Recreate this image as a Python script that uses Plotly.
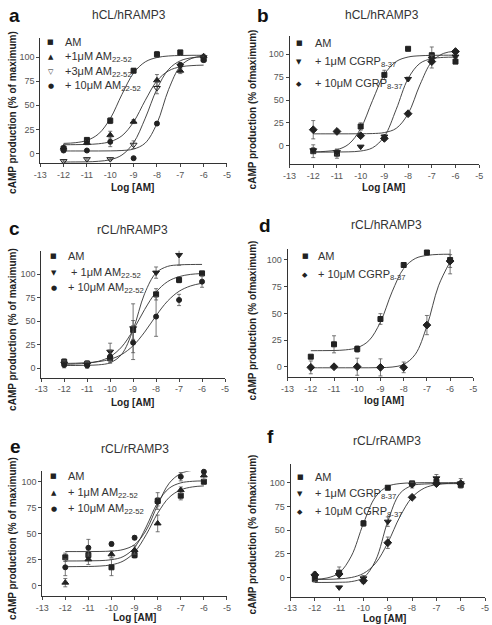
import plotly.graph_objects as go

W, H = 492, 625

# ---------------- data ----------------
dose = [-12, -11, -10, -9, -8, -7, -6]
fit_x = [-12, -11.5, -11, -10.5, -10, -9.5, -9, -8.5, -8, -7.5, -7, -6.5, -6]
fit_x_short = [-12, -11.5, -11, -10.5, -10, -9.5, -9, -8.5, -8, -7.5, -7, -6.5, -6.3]
x_ticks = [-13, -12, -11, -10, -9, -8, -7, -6, -5]
y_ticks = [0, 25, 50, 75, 100]

# panel a  (hCL/hRAMP3, AM22-52)
a_am = [5, 14, 34, 86, 103, 105, 98]
a_am_err = [2, 2, 3, 2, 3, 2, 3]
a_am_fit = [10.4, 11.1, 13.5, 20.3, 36.2, 61.3, 83.6, 95.2, 99.7, 101.3, 101.8, 102, 102]
a_1 = [6, 11, 19, 33, 76, 86, 101]
a_1_err = [2, 2, 4, 2, 6, 3, 2]
a_1_fit = [9.0, 9.1, 9.3, 10.0, 12.2, 18.3, 32.7, 55.2, 75.4, 85.9, 90.0, 91.3, 91.8]
a_3 = [-8, -6, -6, 9, 68, 91, 100]
a_3_err = [1, 1, 1, 4, 6, 3, 2]
a_3_fit = [-9.0, -8.9, -8.8, -8.2, -6.6, -1.7, 11.1, 36.6, 67.0, 87.4, 96.3, 99.5, 100.5]
a_10 = [3, 3, 12, -5, 31, 92, 97]
a_10_err = [1, 1, 5, 1, 2, 2, 2]
a_10_fit = [2.5, 2.5, 2.5, 2.5, 2.6, 3.0, 4.5, 10.8, 31.1, 66.5, 90.6, 98.9, 101.0]

# panel b  (hCL/hRAMP3, CGRP8-37)
b_am = [-6, -8.7, 21, 77.5, 106, 99, 92]
b_am_err = [7, 5, 4, 5, 1, 9, 1]
b_am_fit = [-6.8, -6.2, -4.4, 1.8, 18.7, 49.4, 77.9, 92.1, 97.0, 98.4, 98.8, 99.0, 99.0]
b_1 = [-5, -7, -1, 10, 73, 95, 97.5]
b_1_err = [3, 3, 1, 2, 2, 4, 1]
b_1_fit = [-7.0, -7.0, -6.9, -6.7, -5.8, -2.3, 10.1, 39.8, 73.4, 90.1, 95.2, 96.6, 96.9]
b_10 = [17.5, 15.6, 11, 8, 35, 92, 103]
b_10_err = [10, 1, 2, 2, 1, 7, 1]
b_10_fit = [13.0, 13.0, 13.0, 13.0, 13.1, 13.3, 14.4, 19.0, 34.9, 66.6, 91.9, 101.0, 103.3]

# panel c  (rCL/hRAMP3, AM22-52)
c_am = [7, 5, 10.6, 40.8, 78.7, 94, 101]
c_am_err = [3, 3, 4, 10, 6, 3, 2]
c_am_fit = [4.2, 4.6, 5.4, 7.5, 12.4, 22.7, 40.5, 62.5, 81.0, 92.2, 97.5, 99.9, 100.8]
c_1 = [5, 4, 17.7, 42.6, 101.8, 120.6, None]
c_1_err = [3, 3, 9, 26, 6, 11, 0]
c_1_fit = [3.0, 3.0, 3.2, 3.7, 5.9, 14.8, 41.1, 79.4, 101.5, 108.4, 110.0, 110.4, 110.5]
c_10 = [3.5, 3, 12.4, 27.3, 55, 72.7, 92.2]
c_10_err = [3, 3, 7, 18, 21, 6, 6]
c_10_fit = [5.2, 5.4, 6.0, 7.1, 9.6, 14.7, 24.0, 38.5, 56.0, 71.5, 81.9, 87.6, 90.5]

# panel d  (rCL/hRAMP3, CGRP8-37)
d_am = [9.4, 21, 16.6, 44.7, 95.3, 107, 100]
d_am_err = [1, 8, 3, 5, 2, 1, 13]
d_am_fit = [15.0, 15.1, 15.2, 15.8, 17.8, 24.4, 41.9, 70.1, 92.0, 101.4, 104.3, 105.2, 105.4]
d_10 = [-0.6, 0, 0, -0.6, -0.6, 39, 99]
d_10_err = [6, 0.5, 8, 8, 5, 9, 6]
d_10_fit = [-1.0, -1.0, -1.0, -1.0, -1.0, -1.0, -0.8, -0.3, 2.2, 11.6, 38.1, 75.8, 98.3]

# panel e  (rCL/rRAMP3, AM22-52)
e_am = [27.5, 29.7, 17.9, 29.7, 81.5, 86.6, 100]
e_am_err = [4, 4, 8, 3, 8, 4, 2]
e_am_fit = [24.0, 24.0, 24.1, 24.3, 25.2, 28.1, 36.9, 56.6, 80.0, 93.8, 98.9, 100.4, 100.8]
e_1 = [3.2, 25.6, 30.4, 34.5, 60, 92, 106]
e_1_err = [4, 5, 3, 4, 8, 3, 4]
e_1_fit = [18.5, 18.6, 18.7, 19.1, 20.3, 23.8, 32.4, 49.1, 69.8, 85.0, 92.2, 95.0, 96.0]
e_10 = [17.9, 36.7, 40.3, 46.3, 80.8, 104.8, 109.6]
e_10_err = [8, 8, 2, 2, 4, 4, 3]
e_10_fit = [33.0, 33.0, 33.0, 33.1, 33.5, 34.9, 39.7, 53.3, 77.7, 98.6, 107.9, 110.9, 111.3]

# panel f  (rCL/rRAMP3, CGRP8-37)
f_am = [-1.5, 5.3, 57.2, 94.7, 99.3, 101, 97.5]
f_am_err = [3, 6, 3, 2, 2, 2, 2]
f_am_fit = [-1.6, -0.3, 5.0, 22.7, 57.2, 85.3, 96.2, 99.1, 99.8, 100.0, 100.0, 100.0, 100.0]
f_1 = [1, -10.2, -0.7, 59, 97.5, 104.6, 99.3]
f_1_err = [5, 1, 3, 5, 3, 4, 5]
f_1_fit = [-5.0, -5.0, -4.8, -4.1, 0.1, 18.3, 59.3, 88.7, 97.0, 98.6, 98.9, 99.0, 99.0]
f_10 = [3, 3.9, -3.2, 36.8, 84.6, 99, 99]
f_10_err = [2, 2, 3, 6, 1, 2, 2]
f_10_fit = [-1.9, -1.7, -1.2, 0.2, 4.5, 15.3, 36.8, 64.3, 84.6, 94.3, 98.0, 99.3, 99.8]

titles = ["hCL/hRAMP3", "hCL/hRAMP3", "rCL/hRAMP3", "rCL/hRAMP3", "rCL/rRAMP3", "rCL/rRAMP3"]
letters = ["a", "b", "c", "d", "e", "f"]
y_titles = ["cAMP production (% of maximum)", "cAMP production (% ofmaximum)",
            "cAMP production (% of maximum)", "cAMP production (% ofmaximum)",
            "cAMP production (% of maximum)", "cAMP production (% ofmaximum)"]
x_titles = ["Log [AM]", "Log [AM]", "Log [AM]", "log [AM]", "Log [AM]", "Log [AM]"]

# ---------------- layout geometry (pixels) ----------------
geom = [
    dict(x=(34, 225), y=(38, 163), yr=(-10, 120)),
    dict(x=(289, 483), y=(36, 164), yr=(-20, 120)),
    dict(x=(35, 223), y=(250.8, 377.7), yr=(-10, 125)),
    dict(x=(287, 477), y=(249.3, 377.4), yr=(-10, 110)),
    dict(x=(36, 225), y=(471.3, 596.4), yr=(-10, 110)),
    dict(x=(290, 489), y=(463.7, 596.7), yr=(-20, 120)),
]
title_pos = [(125, 15), (384, 15), (128, 230), (388, 225), (131, 449), (389, 441)]
letter_pos = [(8, 15), (262, 15), (8, 228), (264, 225), (9, 446), (270, 436)]
ytitle_pos = [(5, 112), (251, 109), (5, 329), (251, 320), (5, 538), (251, 534)]
xtitle_pos = [(128, 187), (385, 187), (128, 402), (386, 400), (130, 617.5), (386, 618.5)]

SUB_AM = "AM<sub>22-52</sub>"
SUB_CG = "CGRP<sub>8-37</sub>"
panels = [
    [("square", "■", "AM", a_am, a_am_err, a_am_fit, fit_x),
     ("triangle-up", "▲", "+1μM " + SUB_AM, a_1, a_1_err, a_1_fit, fit_x),
     ("triangle-down-open", "▽", "+3μM " + SUB_AM, a_3, a_3_err, a_3_fit, fit_x),
     ("circle", "●", "+ 10μM " + SUB_AM, a_10, a_10_err, a_10_fit, fit_x)],
    [("square", "■", "AM", b_am, b_am_err, b_am_fit, fit_x),
     ("triangle-down", "▼", "+ 1μM " + SUB_CG, b_1, b_1_err, b_1_fit, fit_x),
     ("diamond", "◆", "+ 10μM " + SUB_CG, b_10, b_10_err, b_10_fit, fit_x)],
    [("square", "■", "AM", c_am, c_am_err, c_am_fit, fit_x),
     ("triangle-down", "▼", " + 1μM " + SUB_AM, c_1, c_1_err, c_1_fit, fit_x),
     ("circle", "●", "+ 10μM " + SUB_AM, c_10, c_10_err, c_10_fit, fit_x)],
    [("square", "■", "AM", d_am, d_am_err, d_am_fit, fit_x),
     ("diamond", "◆", "+ 10μM " + SUB_CG, d_10, d_10_err, d_10_fit, fit_x)],
    [("square", "■", "AM", e_am, e_am_err, e_am_fit, fit_x),
     ("triangle-up", "▲", "+ 1μM " + SUB_AM, e_1, e_1_err, e_1_fit, fit_x),
     ("circle", "●", "+ 10μM " + SUB_AM, e_10, e_10_err, e_10_fit, fit_x_short)],
    [("square", "■", "AM", f_am, f_am_err, f_am_fit, fit_x),
     ("triangle-down", "▼", "+ 1μM " + SUB_CG, f_1, f_1_err, f_1_fit, fit_x),
     ("diamond", "◆", "+ 10μM " + SUB_CG, f_10, f_10_err, f_10_fit, fit_x)],
]
legend_rows = [
    (45, 57, [42, 57, 72, 86]),
    (299, 313, [43, 62.5, 84]),
    (48, 60, [256, 273, 288]),
    (305, 316, [256, 275]),
    (48, 60, [476, 493, 509]),
    (300, 313, [477, 494, 512]),
]

FONT = "Liberation Sans, Arial, Helvetica, sans-serif"
INK = "#222222"

fig = go.Figure()
layout = dict(width=W, height=H, margin=dict(l=0, r=0, t=0, b=0),
              paper_bgcolor="white", plot_bgcolor="white", showlegend=False,
              font=dict(family=FONT, color=INK))
annotations = []


def px2x(p):
    return p / W


def px2y(p):
    return 1 - p / H


for i, (g, series) in enumerate(zip(geom, panels)):
    n = "" if i == 0 else str(i + 1)
    xa, ya = "x" + n, "y" + n
    layout["xaxis" + n] = dict(
        domain=[px2x(g["x"][0]), px2x(g["x"][1])], anchor=ya, range=[-13, -5],
        tickvals=x_ticks, ticktext=[str(v) for v in x_ticks], ticks="outside", ticklen=3,
        tickwidth=0.8, tickcolor="#444", showline=True, linecolor="#333", linewidth=0.9,
        showgrid=False, zeroline=False, tickfont=dict(size=9, color="#555"))
    layout["yaxis" + n] = dict(
        domain=[px2y(g["y"][1]), px2y(g["y"][0])], anchor=xa, range=list(g["yr"]),
        tickvals=y_ticks, ticks="outside", ticklen=3, tickwidth=0.8, tickcolor="#444",
        showline=True, linecolor="#333", linewidth=0.9, showgrid=False, zeroline=False,
        tickfont=dict(size=9, color="#555"))
    for sym, glyph, label, vals, errs, fit, fx in series:
        fig.add_trace(go.Scatter(x=fx, y=fit, mode="lines", xaxis=xa, yaxis=ya,
                                 line=dict(color="#333", width=0.9, shape="spline", smoothing=1.0),
                                 hoverinfo="skip"))
        fig.add_trace(go.Scatter(x=dose, y=vals, mode="markers", xaxis=xa, yaxis=ya,
                                 cliponaxis=False,
                                 marker=dict(symbol=sym, size=5 if sym in ("square", "circle") else 6,
                                             color=INK, line=dict(color=INK, width=1)),
                                 error_y=dict(type="data", array=errs, thickness=0.8, width=2,
                                              color="#555")))
    gx, tx, rows = legend_rows[i]
    for (sym, glyph, label, *_), ry in zip(series, rows):
        annotations.append(dict(x=px2x(gx), y=px2y(ry), xref="paper", yref="paper",
                                text=glyph, showarrow=False, xanchor="center", yanchor="middle",
                                font=dict(size=7, color=INK, family="DejaVu Sans")))
        annotations.append(dict(x=px2x(tx), y=px2y(ry), xref="paper", yref="paper",
                                text=label, showarrow=False, xanchor="left", yanchor="middle",
                                font=dict(size=11, color="#333", family=FONT)))
    tp = title_pos[i]
    annotations.append(dict(x=px2x(tp[0]), y=px2y(tp[1]), xref="paper", yref="paper",
                            text=titles[i], showarrow=False, xanchor="center", yanchor="middle",
                            font=dict(size=12, color="#333", family=FONT)))
    lp = letter_pos[i]
    annotations.append(dict(x=px2x(lp[0]), y=px2y(lp[1]), xref="paper", yref="paper",
                            text=letters[i], showarrow=False,
                            xanchor="center", yanchor="middle",
                            font=dict(size=19, color="#111", family=FONT, weight="bold")))
    yp = ytitle_pos[i]
    annotations.append(dict(x=px2x(yp[0]), y=px2y(yp[1]), xref="paper", yref="paper",
                            text=y_titles[i], showarrow=False, textangle=-90,
                            xanchor="center", yanchor="middle",
                            font=dict(size=10, color=INK, family=FONT, weight="bold")))
    xp = xtitle_pos[i]
    annotations.append(dict(x=px2x(xp[0]), y=px2y(xp[1]), xref="paper", yref="paper",
                            text=x_titles[i], showarrow=False,
                            xanchor="center", yanchor="middle",
                            font=dict(size=10, color=INK, family=FONT, weight="bold")))

layout["annotations"] = annotations
fig.update_layout(**layout)
fig.write_html("out.html", config={"displayModeBar": False},
               post_script="document.body.style.margin='0';document.body.style.overflow='hidden';")
